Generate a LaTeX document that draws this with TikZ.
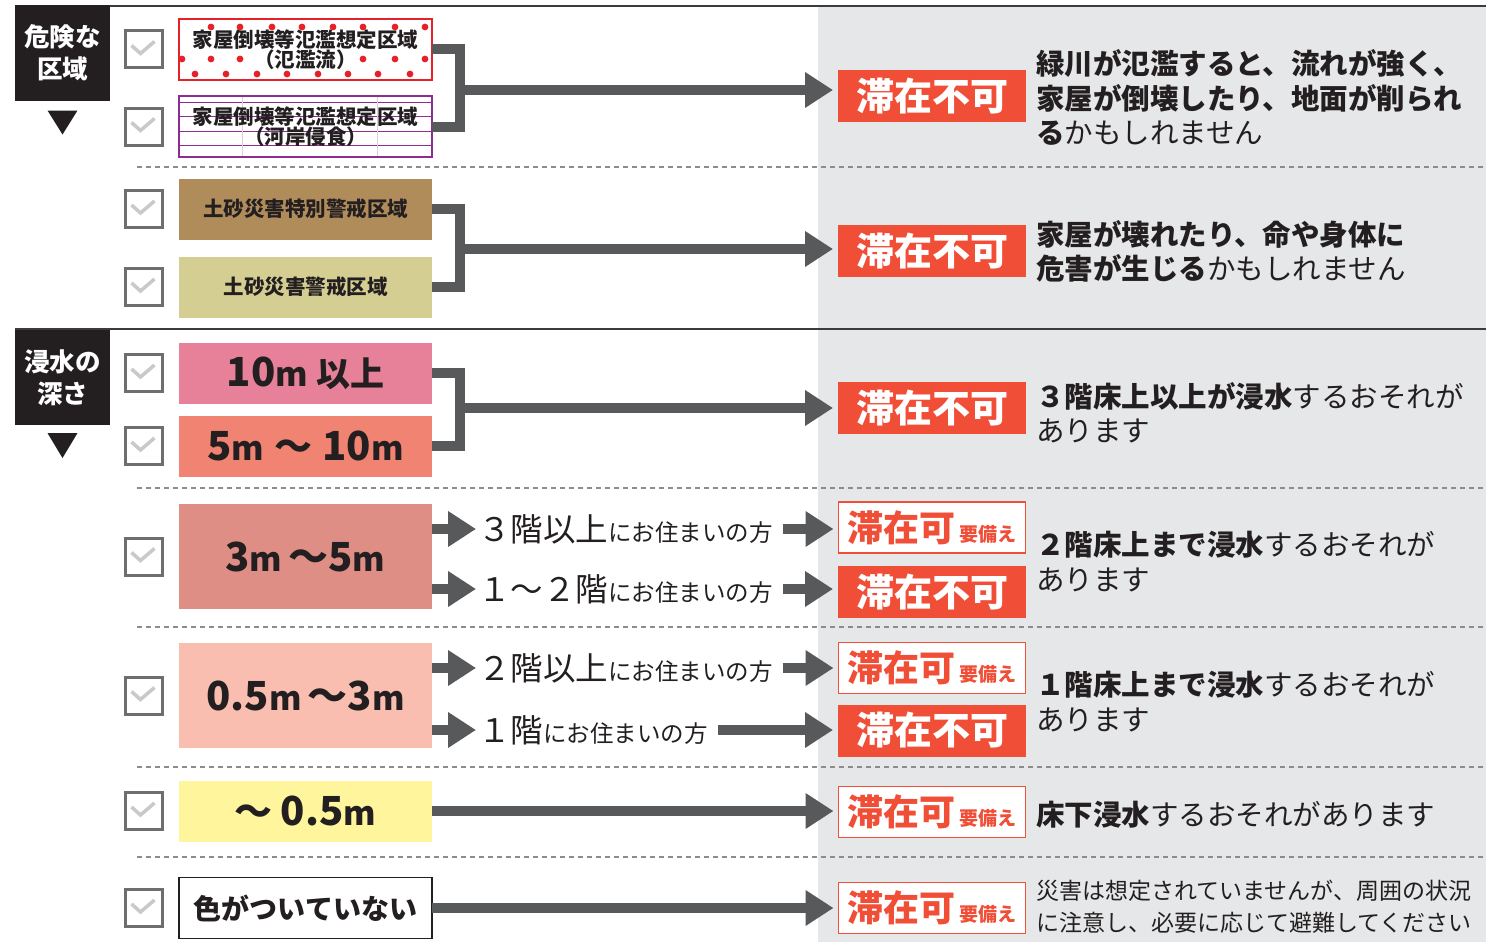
\documentclass[tikz,border=0pt]{standalone}
\usepackage{fontspec}
\setmainfont{Noto Sans CJK JP}
\usetikzlibrary{positioning, calc, arrows.meta}

\definecolor{panelgray}{RGB}{230,231,232}
\definecolor{tagblack}{RGB}{35,31,32}
\definecolor{inkdark}{RGB}{35,31,32}
\definecolor{rulegray}{RGB}{60,60,62}
\definecolor{dashgray}{RGB}{140,140,142}
\definecolor{boxgray}{RGB}{110,110,112}
\definecolor{checkgray}{RGB}{200,201,203}
\definecolor{arrowgray}{RGB}{88,89,91}
\definecolor{badgered}{RGB}{240,78,55}
\definecolor{floodred}{RGB}{230,33,41}
\definecolor{bankpurple}{RGB}{142,45,145}
\definecolor{slidebrown}{RGB}{177,140,91}
\definecolor{slidekhaki}{RGB}{213,206,146}
\definecolor{depthpink}{RGB}{231,129,153}
\definecolor{depthsalmon}{RGB}{240,131,113}
\definecolor{depthrose}{RGB}{223,142,133}
\definecolor{depthpeach}{RGB}{249,190,175}
\definecolor{depthyellow}{RGB}{255,245,157}

\newcommand{\fsz}[1]{\fontsize{#1pt}{#1pt}\selectfont}

\begin{document}
\begin{tikzpicture}[
                x=1pt, y=-1pt,
                every node/.style={inner sep=0pt, outer sep=0pt},
                tag/.style={fill=tagblack, text=white, minimum width=95pt, minimum height=95pt, align=center, font=\bfseries\fontsize{25.5pt}{32pt}\selectfont},
                checkbox/.style={draw=boxgray, line width=3pt, fill=white, minimum size=37pt,
                    path picture={\draw[checkgray, line width=3.5pt] ($(path picture bounding box.center)+(-12pt,4pt)$) -- ++(9pt,-8pt) -- ++(14pt,12pt);}},
                zone/.style={minimum width=253pt, minimum height=61pt, align=center, text=inkdark, font=\bfseries\fontsize{20.5pt}{20pt}\selectfont},
                depth/.style={zone, font=\bfseries\fsz{40}},
                stopbadge/.style={fill=badgered, text=white, minimum width=188pt, minimum height=52pt, font=\bfseries\fsz{38}},
                okbadge/.style={stopbadge, draw=badgered, line width=1.2pt, fill=white, text=badgered, minimum width=187pt, minimum height=51pt, font=\bfseries\fsz{36}},
                note/.style={anchor=west, align=left, text=inkdark, font=\fontsize{28.5pt}{34.5pt}\selectfont},
                living/.style={anchor=west, text=inkdark},
                bar/.style={draw=arrowgray, line width=10pt},
                arr/.style={bar, -{Triangle[length=28pt, width=34pt]}, shorten >=5pt},
                divider/.style={draw=dashgray, line width=1.3pt, dash pattern=on 5pt off 4pt},
                rule/.style={draw=rulegray, line width=2pt}]

    \useasboundingbox (0,0) rectangle (1486,942);

    %%% BACKGROUND
    \fill[panelgray] (818,6) rectangle (1486,942);
    \draw[rule] (16,6) -- (1486,6);
    \draw[rule] (15,329) -- (1486,329);
    \foreach \yy in {167,488,627,767,857}
        \draw[divider] (137,\yy) -- (1486,\yy);

    %%% TAGS
    \node [tag] (danger) at (62.5,53) {危険な\\区域};
    \fill[tagblack] ($(danger.south)+(-15,10)$) -- ++(30,0) -- ++(-15,24) -- cycle;
    \node [tag] (depthtag) at (62.5,377.5) {浸水の\\深さ};
    \fill[tagblack] ($(depthtag.south)+(-15,8)$) -- ++(30,0) -- ++(-15,25) -- cycle;

    %%% ZONES
    \node [zone, draw=floodred, line width=2.5pt, fill=white,
           path picture={
               \foreach \px in {32,61,93,123,154,184,216,246}
                   \fill[floodred] ($(path picture bounding box.north west)+(\px pt,-8pt)$) circle (3.4pt);
               \foreach \px in {3,32,61,184,216,246}
                   \fill[floodred] ($(path picture bounding box.north west)+(\px pt,-40pt)$) circle (3.4pt);
               \foreach \px in {16,47,78,108,139,169,199,231}
                   \fill[floodred] ($(path picture bounding box.north west)+(\px pt,-55pt)$) circle (3.4pt);
           }] (flood) at (305.5,49.5) {家屋倒壊等氾濫想定区域\\（氾濫流）};
    \node [zone, draw=bankpurple, line width=2.5pt, fill=white, below=16pt of flood,
           path picture={
               \foreach \dy in {6,20.5,35,49}
                   \draw[bankpurple, line width=0.9pt] ($(path picture bounding box.north west)+(0pt,-\dy pt)$) -- ++(260pt,0pt);
               \foreach \dx in {63,198}
                   \draw[bankpurple!25, line width=0.6pt] ($(path picture bounding box.north west)+(\dx pt,0pt)$) -- ++(0pt,-70pt);
           }] (erosion) {家屋倒壊等氾濫想定区域\\（河岸侵食）};
    \node [zone, fill=slidebrown] (slidespecial) at (305.5,209) {土砂災害特別警戒区域};
    \node [zone, fill=slidekhaki, below=17pt of slidespecial] (slide) {土砂災害警戒区域};

    \node [depth, fill=depthpink] (over10) at (305.5,373) {10{\fsz{33}m}\hspace{8pt}{\fsz{34}以上}};
    \node [depth, fill=depthsalmon, below=12pt of over10] (to10) {5{\fsz{33}m}\hspace{10pt}{\fsz{38}～}\hspace{10pt}10{\fsz{33}m}};
    \node [depth, fill=depthrose, minimum height=105pt] (to5) at (305.5,556.5) {3{\fsz{33}m}\hspace{6pt}{\fsz{40}～}5{\fsz{33}m}};
    \node [depth, fill=depthpeach, minimum height=105pt] (to3) at (305.5,695.5) {0.5{\fsz{33}m}\hspace{6pt}{\fsz{40}～}3{\fsz{33}m}};
    \node [depth, fill=depthyellow] (to05) at (305.5,811) {{\fsz{38}～}\hspace{8pt}0.5{\fsz{33}m}};
    \node [zone, draw=inkdark, line width=1.5pt, fill=white, font=\bfseries\fsz{28}] (nocolor) at (305.5,908) {色がついていない};

    %%% CHECKBOXES
    \foreach \zn in {flood, erosion, slidespecial, slide, over10, to10, to5, to3, to05, nocolor}
        \node [checkbox, left=17pt of \zn] (cb-\zn) {};

    %%% VERDICTS
    \node [stopbadge] (stop1) at (932,96) {滞在不可};
    \node [stopbadge] (stop2) at (932,251) {滞在不可};
    \node [stopbadge] (stop3) at (932,408) {滞在不可};
    \node [okbadge] (ok1) at (932,527.5) {滞在可\hspace{4pt}{\fsz{19}要備え}};
    \node [stopbadge] (stop4) at (932,592) {滞在不可};
    \node [okbadge] (ok2) at (932,668) {滞在可\hspace{4pt}{\fsz{19}要備え}};
    \node [stopbadge] (stop5) at (932,730.5) {滞在不可};
    \node [okbadge] (ok3) at (932,812) {滞在可\hspace{4pt}{\fsz{19}要備え}};
    \node [okbadge] (ok4) at (932,908) {滞在可\hspace{4pt}{\fsz{19}要備え}};

    %%% NOTES
    \node [note] (note1) at (1036,97.5) {\textbf{緑川が氾濫すると、流れが強く、}\\\textbf{家屋が倒壊したり、地面が削られ}\\\textbf{る}かもしれません};
    \node [note] (note2) at (1036,251.5) {\textbf{家屋が壊れたり、命や身体に}\\\textbf{危害が生じる}かもしれません};
    \node [note] (note3) at (1036,413) {\textbf{３階床上以上が浸水}するおそれが\\あります};
    \node [note] (note4) at (1036,561.5) {\textbf{２階床上まで浸水}するおそれが\\あります};
    \node [note] (note5) at (1036,701.5) {\textbf{１階床上まで浸水}するおそれが\\あります};
    \node [note] (note6) at (1036,815) {\textbf{床下浸水}するおそれがあります};
    \node [note, font=\fontsize{23pt}{32pt}\selectfont] (note7) at (1036,907) {災害は想定されていませんが、周囲の状況\\に注意し、必要に応じて避難してください};

    %%% FLOORS
    \node [living] (up5) at (478,529) {{\fsz{32.5}３階以上}{\fsz{23.5}にお住まいの方}};
    \node [living] (low5) at (478,589) {{\fsz{32.5}１～２階}{\fsz{23.5}にお住まいの方}};
    \node [living] (up3) at (478,668) {{\fsz{32.5}２階以上}{\fsz{23.5}にお住まいの方}};
    \node [living] (low3) at (478,730) {{\fsz{32.5}１階}{\fsz{23.5}にお住まいの方}};

    %%% CONNECTIONS
    \coordinate (j1) at (460,90);
    \coordinate (j2) at (460,249);
    \coordinate (j3) at (460,408);
    \draw[bar] (flood.east) -| (j1) |- (erosion.east);
    \draw[arr] (j1) -- (stop1.west |- j1);
    \draw[bar] (slidespecial.east) -| (j2) |- (slide.east);
    \draw[arr] (j2) -- (stop2.west |- j2);
    \draw[bar] (over10.east) -| (j3) |- (to10.east);
    \draw[arr] (j3) -- (stop3.west |- j3);

    \draw[arr, shorten >=2pt] (to5.east |- up5.west) -- (up5.west);
    \draw[arr, shorten >=2pt] (to5.east |- low5.west) -- (low5.west);
    \draw[arr, shorten <=10pt] (up5.east) -- (ok1.west |- up5.east);
    \draw[arr, shorten <=10pt] (low5.east) -- (stop4.west |- low5.east);

    \draw[arr, shorten >=2pt] (to3.east |- up3.west) -- (up3.west);
    \draw[arr, shorten >=2pt] (to3.east |- low3.west) -- (low3.west);
    \draw[arr, shorten <=10pt] (up3.east) -- (ok2.west |- up3.east);
    \draw[arr, shorten <=10pt] (low3.east) -- (stop5.west |- low3.east);

    \draw[arr] (to05.east) -- (ok3.west |- to05.east);
    \draw[arr] (nocolor.east) -- (ok4.west |- nocolor.east);

\end{tikzpicture}
\end{document}
